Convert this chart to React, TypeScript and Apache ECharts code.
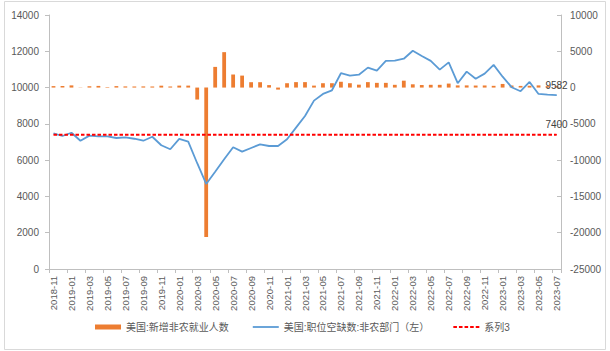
import React, { useEffect, useRef } from "react";
import * as echarts from "echarts";

const months: string[] = (() => {
  const out: string[] = [];
  let y = 2018, m = 11;
  for (let i = 0; i < 57; i++) {
    out.push(`${y}-${m < 10 ? "0" + m : m}`);
    m++;
    if (m > 12) { m = 1; y++; }
  }
  return out;
})();

const payrollChange: number[] = [
  200, 220, 300, 30, 180, 230, 70, 200, 160, 150, 160, 150, 260, 150,
  270, 270, -1650, -20600, 2850, 4880, 1800, 1650, 740, 740, 340, -280,
  600, 750, 750, 270, 600, 600, 800, 600, 400, 750, 650, 650, 380, 950,
  450, 350, 380, 380, 550, 300, 300, 280, 290, 240, 500, 300, 230, 250,
  300, 200, 190,
];

const jobOpenings: number[] = [
  7480, 7330, 7510, 7070, 7350, 7310, 7310, 7220, 7250, 7180, 7070, 7290,
  6820, 6600, 7170, 7020, 5830, 4690, 5360, 6050, 6710, 6470, 6670, 6870,
  6780, 6780, 7150, 7790, 8430, 9280, 9650, 9850, 10790, 10660, 10710,
  11100, 10930, 11470, 11480, 11590, 12030, 11740, 11470, 10990, 11390,
  10240, 10880, 10490, 10770, 11250, 10600, 10020, 9800, 10310, 9650,
  9610, 9582,
];

const series3: number[] = months.map(() => 7400);

const leftTicks = { min: 0, max: 14000, interval: 2000 };
const rightTicks = { min: -25000, max: 10000, interval: 5000 };

const FONT = 'Arial, "Liberation Sans", "Noto Sans CJK SC", sans-serif';

const LINE_ICON = "path://M0,0h26v1.8h-26z";
const DASH_ICON =
  "path://M0,0h3.6v1.8h-3.6z M5.6,0h3.6v1.8h-3.6z M11.2,0h3.6v1.8h-3.6z M16.8,0h3.6v1.8h-3.6z M22.4,0h3.6v1.8h-3.6z";

export default function App() {
  const ref = useRef<HTMLDivElement>(null);
  useEffect(() => {
    if (!ref.current) return;
    const chart = echarts.init(ref.current, undefined, { renderer: "svg" });
    const last = months.length - 1;
    const endLabel = (dist: number) => ({
      show: true,
      position: "top",
      distance: dist,
      fontSize: 10,
      color: "#404040",
      fontFamily: FONT,
    });
    chart.setOption({
      animation: false,
      backgroundColor: "#ffffff",
      textStyle: { fontFamily: FONT },
      graphic: [
        {
          type: "rect",
          shape: { x: 4.5, y: 1.5, width: 601, height: 348 },
          style: { fill: "none", stroke: "#D9D9D9", lineWidth: 1 },
          silent: true,
        },
      ],
      grid: { left: 49, right: 49, top: 15, bottom: 82, containLabel: false },
      legend: {
        left: 90,
        top: 317,
        itemGap: 24,
        itemWidth: 26,
        itemHeight: 5,
        symbolKeepAspect: true,
        textStyle: { fontSize: 10, color: "#595959", fontFamily: FONT },
        data: [
          { name: "美国:新增非农就业人数", icon: "rect" },
          { name: "美国:职位空缺数:非农部门（左）", icon: LINE_ICON },
          { name: "系列3", icon: DASH_ICON },
        ],
      },
      xAxis: {
        type: "category",
        data: months,
        boundaryGap: true,
        axisLine: { show: true, lineStyle: { color: "#BFBFBF" } },
        axisTick: { show: true, lineStyle: { color: "#BFBFBF" }, length: 4 },
        axisLabel: {
          interval: 1,
          rotate: 90,
          fontSize: 9.5,
          color: "#595959",
          margin: 7,
          fontFamily: FONT,
        },
      },
      yAxis: [
        {
          type: "value",
          position: "left",
          ...leftTicks,
          splitLine: { show: false },
          axisLine: { show: true, lineStyle: { color: "#BFBFBF" } },
          axisTick: { show: true, length: 4, lineStyle: { color: "#BFBFBF" } },
          axisLabel: {
            fontSize: 10,
            color: "#595959",
            margin: 10,
            fontFamily: FONT,
            formatter: (v: number) => String(v),
          },
        },
        {
          type: "value",
          position: "right",
          ...rightTicks,
          splitLine: { show: false },
          axisLine: { show: true, lineStyle: { color: "#BFBFBF" } },
          axisTick: { show: true, inside: true, length: 4, lineStyle: { color: "#BFBFBF" } },
          axisLabel: {
            fontSize: 10,
            color: "#595959",
            margin: 9,
            fontFamily: FONT,
            formatter: (v: number) => String(v),
          },
        },
      ],
      series: [
        {
          name: "美国:新增非农就业人数",
          type: "bar",
          yAxisIndex: 1,
          data: payrollChange,
          barWidth: 3.8,
          itemStyle: { color: "#ED7D31" },
        },
        {
          name: "美国:职位空缺数:非农部门（左）",
          type: "line",
          yAxisIndex: 0,
          data: jobOpenings.map((v, i) =>
            i === last
              ? { value: v, symbol: "circle", symbolSize: 1, label: endLabel(4) }
              : { value: v, symbol: "none" }
          ),
          symbol: "none",
          showSymbol: true,
          lineStyle: { color: "#5B9BD5", width: 1.8 },
          itemStyle: { color: "#5B9BD5" },
        },
        {
          name: "系列3",
          type: "line",
          yAxisIndex: 0,
          data: series3.map((v, i) =>
            i === last
              ? { value: v, symbol: "circle", symbolSize: 1, label: endLabel(5) }
              : { value: v, symbol: "none" }
          ),
          symbol: "none",
          showSymbol: true,
          lineStyle: { color: "#FF0000", width: 1.8, type: [3.5, 2] },
          itemStyle: { color: "#FF0000" },
        },
      ],
    });
    return () => chart.dispose();
  }, []);
  return (
    <div
      ref={ref}
      style={{ position: "fixed", left: 0, top: 0, width: 610, height: 351 }}
    />
  );
}
